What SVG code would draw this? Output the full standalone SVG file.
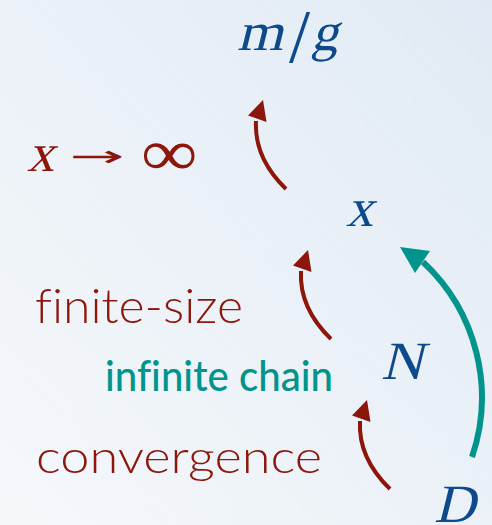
<svg xmlns="http://www.w3.org/2000/svg" width="492" height="525" viewBox="0 0 492 525">
  <defs>
    <linearGradient id="bg" x1="0" y1="1" x2="1" y2="0">
      <stop offset="0" stop-color="#f5f8fb"/>
      <stop offset="1" stop-color="#e1eaf4"/>
    </linearGradient>
    <g id="redArrow">
      <path d="M286,189 Q254,158 256,121" class="red-shaft"/>
      <polygon points="263,100 248,115.5 266.5,122" class="red-head"/>
    </g>
    <style>
      .math { font-family: "Liberation Serif", serif; font-size: 54px; fill: #0c4a8c; }
      .red { fill: #8c160a; }
      .sym { fill: #8c160a; }
      .label { font-family: Lato, "Open Sans", "Liberation Sans", sans-serif; fill: #8c160a; font-weight: 300; font-variant-ligatures: none; }
      .teal { font-family: Lato, "Open Sans", "Liberation Sans", sans-serif; fill: #00948d; font-weight: 500; font-variant-ligatures: none; }
      .red-shaft { fill: none; stroke: #8c160a; stroke-width: 4; }
      .red-head { fill: #8c160a; }
      .teal-shaft { fill: none; stroke: #00948d; stroke-width: 6; }
      .teal-head { fill: #00948d; }
    </style>
  </defs>
  <rect x="0" y="0" width="492" height="525" fill="url(#bg)"/>

  <g id="connectors">
    <use href="#redArrow"/>
    <use href="#redArrow" transform="translate(45,150)"/>
    <use href="#redArrow" transform="translate(104,300)"/>
    <path class="teal-shaft" d="M472,457 A185,185 0 0 0 423,262"/>
    <polygon class="teal-head" points="400,247 415,273 430,251"/>
  </g>

  <g id="node-mg">
    <text class="math" transform="translate(237,50) skewX(-14)" textLength="46" lengthAdjust="spacingAndGlyphs">m</text>
    <text class="math" x="289" y="62" style="font-size:76px">/</text>
    <text class="math" transform="translate(311,50) skewX(-14)">g</text>
  </g>
  <g id="node-xinf">
    <text class="math red" transform="translate(27,171) skewX(-14)">x</text>
    <text class="sym" transform="translate(69,165.5) scale(2.05,0.9)" style="font-family:'DejaVu Sans',sans-serif;font-size:32px">→</text>
    <text class="sym" transform="translate(141,175) scale(1.2,1)" style="font-family:'Liberation Serif',serif;font-size:66px">∞</text>
  </g>
  <g id="node-x">
    <text class="math" transform="translate(346,226) skewX(-14)">x</text>
  </g>
  <g id="node-finite">
    <text class="label" x="35" y="323" font-size="48" textLength="208" lengthAdjust="spacingAndGlyphs">finite-size</text>
  </g>
  <g id="node-infchain">
    <text class="teal" x="105" y="391" font-size="42" textLength="228" lengthAdjust="spacingAndGlyphs">infinite chain</text>
  </g>
  <g id="node-N">
    <text class="math" transform="translate(381,379) skewX(-14)" textLength="42" lengthAdjust="spacingAndGlyphs">N</text>
  </g>
  <g id="node-conv">
    <text class="label" x="36" y="473" font-size="46" textLength="286" lengthAdjust="spacingAndGlyphs">convergence</text>
  </g>
  <g id="node-D">
    <text class="math" transform="translate(434,522) skewX(-14)" textLength="41" lengthAdjust="spacingAndGlyphs">D</text>
  </g>
</svg>
